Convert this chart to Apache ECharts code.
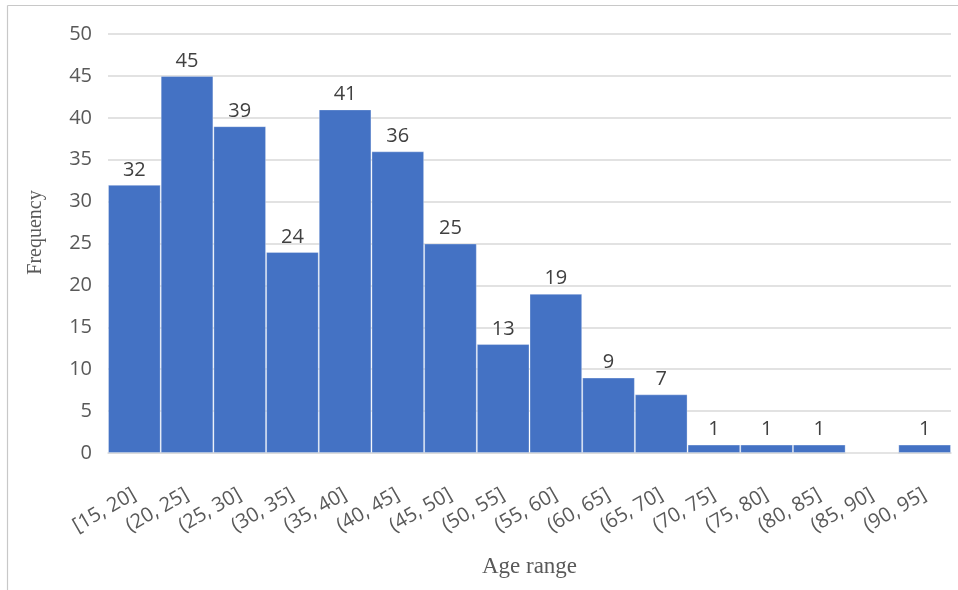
<!DOCTYPE html>
<html>
<head>
<meta charset="utf-8">
<script src="https://cdn.jsdelivr.net/npm/echarts@6/dist/echarts.min.js"></script>
<style>
  html, body { margin: 0; padding: 0; background: #fff; }
  #chart { width: 958px; height: 590px; }
</style>
</head>
<body>
<div id="chart"></div>
<script>
// Age histogram: bin labels and counts per bin
const ageBins = ['[15, 20]', '(20, 25]', '(25, 30]', '(30, 35]', '(35, 40]', '(40, 45]', '(45, 50]', '(50, 55]',
                 '(55, 60]', '(60, 65]', '(65, 70]', '(70, 75]', '(75, 80]', '(80, 85]', '(85, 90]', '(90, 95]'];
const frequency = [32, 45, 39, 24, 41, 36, 25, 13, 19, 9, 7, 1, 1, 1, 0, 1];
const yMin = 0, yMax = 50, yStep = 5;

const chart = echarts.init(document.getElementById('chart'));
const labelFont = '"Open Sans", "Noto Sans", sans-serif';
const titleFont = '"Liberation Serif", "DejaVu Serif", serif';

chart.setOption({
  animation: false,
  backgroundColor: '#fff',
  grid: { left: 108, right: 7, top: 34, bottom: 137, containLabel: false },
  xAxis: {
    type: 'category',
    data: ageBins,
    name: 'Age range',
    nameLocation: 'middle',
    nameGap: 102,
    nameTextStyle: { fontFamily: titleFont, fontSize: 23, color: '#595959' },
    axisLine: { show: true, lineStyle: { color: '#d9d9d9', width: 1.5 } },
    axisTick: { show: false },
    axisLabel: {
      rotate: 30, interval: 0, margin: 40,
      fontFamily: labelFont, fontSize: 20, color: '#595959'
    }
  },
  yAxis: {
    type: 'value',
    min: yMin, max: yMax, interval: yStep,
    name: 'Frequency',
    nameLocation: 'middle',
    nameGap: 62,
    nameTextStyle: { fontFamily: titleFont, fontSize: 20, color: '#595959', padding: [0, 0, 0, 22] },
    axisLine: { show: false },
    axisTick: { show: false },
    axisLabel: { margin: 16, fontFamily: labelFont, fontSize: 20, color: '#595959' },
    splitLine: { lineStyle: { color: '#d9d9d9', width: 1.5 } }
  },
  series: [{
    type: 'bar',
    data: frequency,
    barWidth: '100%',
    barCategoryGap: 0,
    itemStyle: { color: '#4472c4', borderColor: 'rgba(255,255,255,0.3)', borderWidth: 1 },
    label: {
      show: true, position: 'top', distance: 5,
      fontFamily: labelFont, fontSize: 20, color: '#404040',
      formatter: p => (p.value > 0 ? String(p.value) : '')
    }
  }],
  graphic: [
    { type: 'line', shape: { x1: 7.5, y1: 5.5, x2: 958, y2: 5.5 }, style: { stroke: '#c8c8c8', lineWidth: 1.2 }, silent: true },
    { type: 'line', shape: { x1: 7.5, y1: 5.5, x2: 7.5, y2: 590 }, style: { stroke: '#c8c8c8', lineWidth: 1.2 }, silent: true }
  ]
});
</script>
</body>
</html>
